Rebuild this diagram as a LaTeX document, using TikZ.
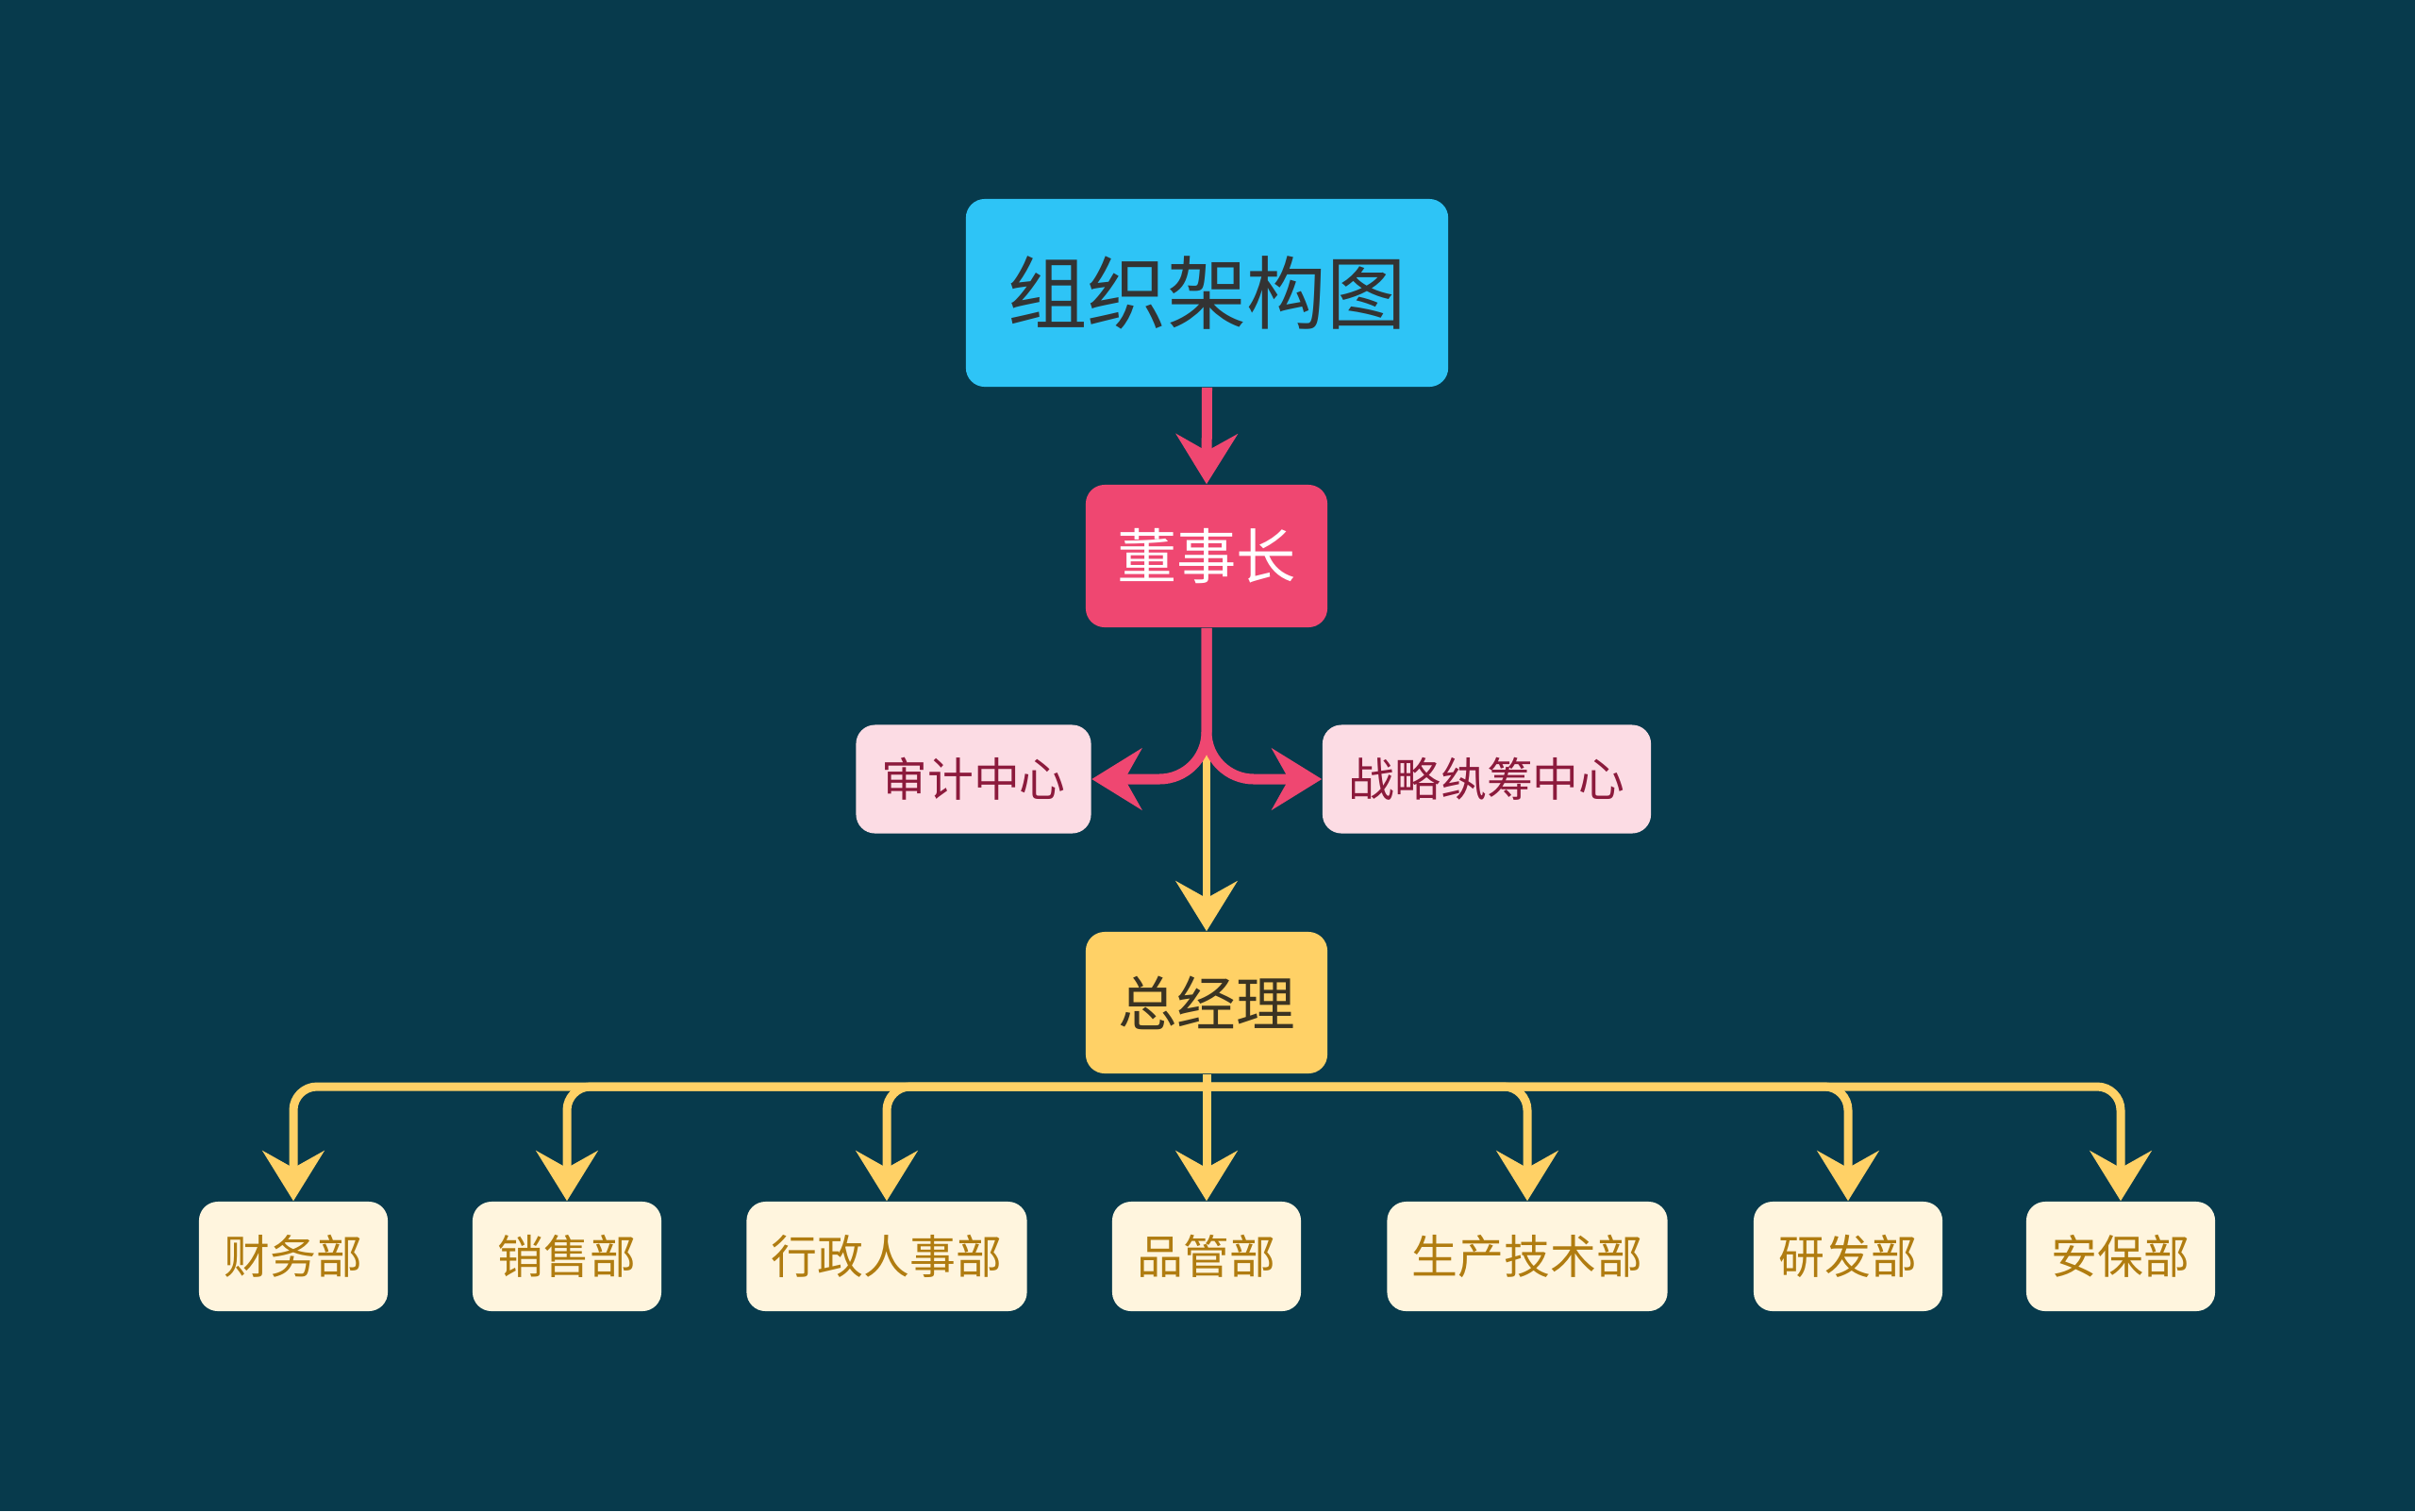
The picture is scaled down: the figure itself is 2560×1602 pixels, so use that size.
\documentclass[tikz,border=0pt]{standalone}
\usepackage{fontspec}
\setmainfont{Noto Sans CJK SC}
\usetikzlibrary{arrows.meta}
\definecolor{bgc}{HTML}{073A4C}
\definecolor{titlec}{HTML}{2EC4F6}
\definecolor{titletext}{HTML}{333333}
\definecolor{pinkc}{HTML}{EF4771}
\definecolor{lpink}{HTML}{FCDCE4}
\definecolor{redtext}{HTML}{8C1A3C}
\definecolor{yellowc}{HTML}{FFD166}
\definecolor{gmtext}{HTML}{3A3322}
\definecolor{cream}{HTML}{FFF5DE}
\definecolor{goldtext}{HTML}{B07C10}
\begin{document}
\begin{tikzpicture}[x=0.01cm,y=-0.01cm,
  box/.style={rounded corners=0.2cm, inner sep=0pt, align=center},
  titlebox/.style={box, fill=titlec, text=titletext, minimum width=5.11cm, minimum height=1.99cm, font=\fontsize{24}{28}\selectfont},
  chairbox/.style={box, fill=pinkc, text=white, minimum width=2.56cm, minimum height=1.51cm, font=\fontsize{18}{22}\selectfont},
  sidebox/.style={box, fill=lpink, text=redtext, minimum height=1.15cm, font=\fontsize{13.9}{17}\selectfont},
  gmbox/.style={box, fill=yellowc, text=gmtext, minimum width=2.56cm, minimum height=1.50cm, font=\fontsize{17.8}{21}\selectfont},
  deptbox/.style={box, fill=cream, text=goldtext, minimum height=1.16cm, font=\fontsize{13.9}{17}\selectfont},
  tipshape/.style={-{Stealth[length=0.53cm, width=0.65cm, inset=0.18cm]}},
  pinkarr/.style={draw=pinkc, line width=0.11cm, tipshape},
  yarr/.style={draw=yellowc, line width=0.075cm, tipshape},
  ybus/.style={draw=yellowc, line width=0.09cm, tipshape}
]
\fill[bgc] (0,0) rectangle (2560,1602);
\useasboundingbox (0,0) rectangle (2560,1602);

\node[titlebox] (title) at (1279.5,310.5) {组织架构图};
\node[chairbox] (chair) at (1279,589.5) {董事长};
\node[sidebox, minimum width=2.49cm] (audit) at (1032,826) {审计中心};
\node[sidebox, minimum width=3.48cm] (strat) at (1576,826) {战略纨筹中心};
\node[gmbox] (gm) at (1279,1063) {总经理};

\node[deptbox, minimum width=2.0cm] (b1) at (311,1332) {财务部};
\node[deptbox, minimum width=2.0cm] (b2) at (601,1332) {销售部};
\node[deptbox, minimum width=2.97cm] (b3) at (940,1332) {行政人事部};
\node[deptbox, minimum width=2.0cm] (b4) at (1279,1332) {品管部};
\node[deptbox, minimum width=2.97cm] (b5) at (1619,1332) {生产技术部};
\node[deptbox, minimum width=2.0cm] (b6) at (1959,1332) {研发部};
\node[deptbox, minimum width=2.0cm] (b7) at (2248,1332) {安保部};

\coordinate (split) at (1279,800);
\coordinate (bus) at (1279,1152);

% yellow from split to general manager
\draw[yarr] (split) -- (gm.north);
% pink connectors
\draw[pinkarr] (title.south) -- (chair.north);
\draw[pinkarr, rounded corners=0.5cm] (chair.south) |- (audit.east);
\draw[pinkarr, rounded corners=0.5cm] (chair.south) |- (strat.west);

% bus to departments
\draw[ybus] (gm.south) -- (b4.north);
\foreach \b in {b1,b2,b3,b5,b6,b7}
  \draw[ybus, rounded corners=0.25cm] (bus) -| (\b.north);
\end{tikzpicture}
\end{document}
